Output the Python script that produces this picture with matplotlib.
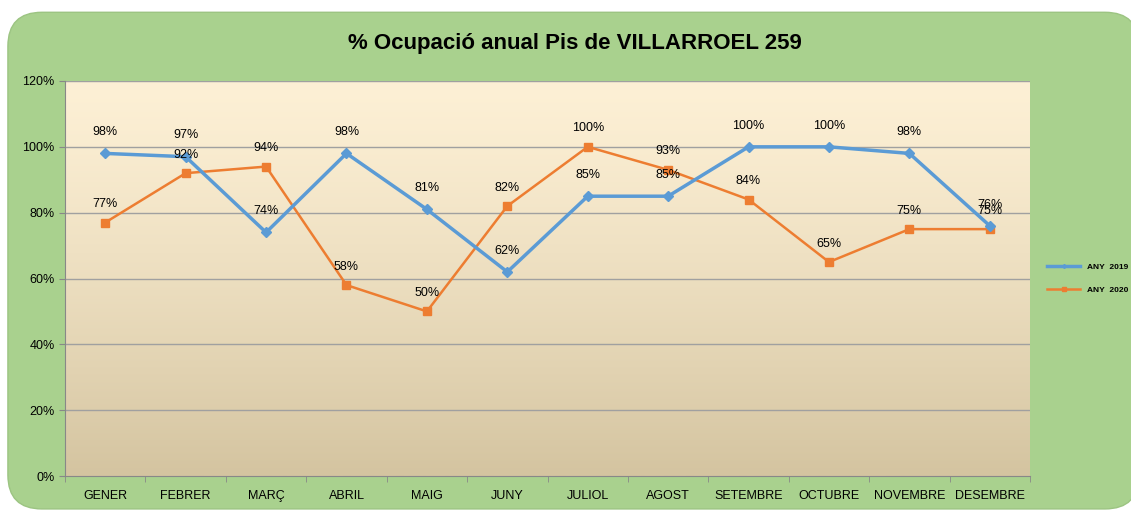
import numpy as np
import matplotlib.pyplot as plt
from matplotlib.patches import FancyBboxPatch

mesos = ["GENER", "FEBRER", "MARÇ", "ABRIL", "MAIG", "JUNY", "JULIOL", "AGOST",
         "SETEMBRE", "OCTUBRE", "NOVEMBRE", "DESEMBRE"]
any2019 = [98, 97, 74, 98, 81, 62, 85, 85, 100, 100, 98, 76]
any2020 = [77, 92, 94, 58, 50, 82, 100, 93, 84, 65, 75, 75]

plt.rcParams['font.family'] = ['Liberation Sans', 'DejaVu Sans']

fig = plt.figure(figsize=(11.31, 5.12), dpi=100)
fig.patch.set_facecolor('white')

# fons verd arrodonit
fons = FancyBboxPatch((0.007, 0.006), 1.0, 0.97, boxstyle="round,pad=0,rounding_size=0.03",
                      transform=fig.transFigure, facecolor='#a9d18e', edgecolor='#9cc482',
                      mutation_aspect=1131/512, zorder=-10)
fig.patches.append(fons)

ax = fig.add_axes([0.0575, 0.0703, 0.8532, 0.7715])
ax.set_zorder(1)
x = np.arange(len(mesos))

# degradat del fons del grafic
grad = np.linspace(0, 1, 256).reshape(-1, 1)
c_top = np.array([253, 240, 213]) / 255
c_bot = np.array([212, 196, 160]) / 255
img = c_top + (c_bot - c_top) * grad[:, :, None] ** 1.3
ax.imshow(img, extent=[-0.5, 11.5, 0, 120], aspect='auto', zorder=0)

ax.set_xlim(-0.5, 11.5)
ax.set_ylim(0, 120)
for v in range(20, 121, 20):
    ax.axhline(v, color='#a0a0a0', lw=1, zorder=1)

ax.plot(x, any2019, color='#5b9bd5', lw=2.5, marker='D', ms=5, label='ANY  2019', zorder=3)
ax.plot(x, any2020, color='#ed7d31', lw=1.8, marker='s', ms=6, label='ANY  2020', zorder=2)

for i in range(len(mesos)):
    ax.annotate(f"{any2019[i]}%", (x[i], any2019[i]), xytext=(0, 11), textcoords='offset points',
                ha='center', va='bottom', fontsize=9, zorder=4)
    ax.annotate(f"{any2020[i]}%", (x[i], any2020[i]), xytext=(0, 9), textcoords='offset points',
                ha='center', va='bottom', fontsize=9, zorder=4)

ax.set_xticks(x)
ax.set_xticklabels(mesos, fontsize=9)
ax.set_xticks(np.arange(-0.5, 12, 1), minor=True)
ax.tick_params(axis='x', which='major', length=0, pad=10)
ax.tick_params(axis='x', which='minor', length=4, color='#888888')
ax.set_yticks(range(0, 121, 20))
ax.set_yticklabels([f"{v}%" for v in range(0, 121, 20)], fontsize=9)
ax.tick_params(axis='y', length=4, color='#888888')
for s in ax.spines.values():
    s.set_color('#888888')
ax.spines['top'].set_visible(False)
ax.spines['right'].set_visible(False)

fig.text(0.508, 0.915, "% Ocupació anual Pis de VILLARROEL 259", ha='center', va='center',
         fontsize=16, fontweight='bold')

ax.legend(loc='center left', bbox_to_anchor=(1.01, 0.5), frameon=False,
          handlelength=4, markerscale=0.4, labelspacing=1.8, prop={'weight': 'bold', 'size': 6})

fig.savefig('out.png', dpi=100, facecolor='white')
